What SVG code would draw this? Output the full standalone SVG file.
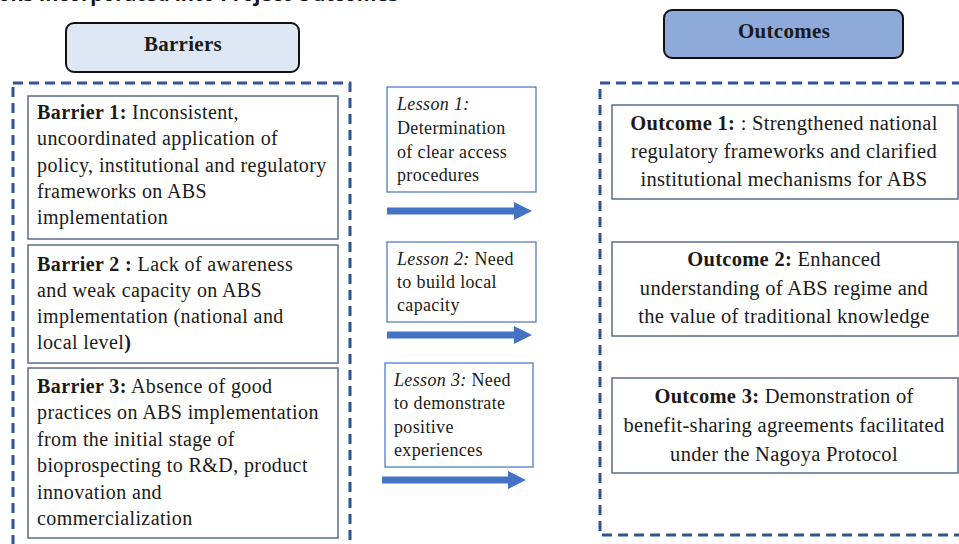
<svg xmlns="http://www.w3.org/2000/svg" width="959" height="544" viewBox="0 0 959 544">
<defs>
<style>
.t{font-family:"Liberation Serif","Times New Roman",serif;fill:#1a1a1a;}
.b{font-size:20px;letter-spacing:0.4px;}
.o{font-size:20.5px;letter-spacing:0.3px;}
.l{font-size:18px;letter-spacing:0.35px;}
.hd{font-size:21px;font-weight:bold;letter-spacing:0.3px;}
.bold{font-weight:bold;}
.it{font-style:italic;}
.dash{fill:none;stroke:#2f5597;stroke-width:3;stroke-dasharray:10 6;}
.box{fill:#fff;stroke:#5b6b8a;stroke-width:1.5;}
.lbox{fill:#fff;stroke:#4472c4;stroke-width:1.2;}
.arr{fill:#4472c4;}
</style>
</defs>
<rect width="959" height="544" fill="#fff"/>
<text x="-2" y="0.5" style="font-family:'Open Sans','Liberation Sans',sans-serif;font-weight:bold;font-size:20px;fill:#111;">ons Incorporated into Project Outcomes</text>

<g id="barriers-header">
<rect x="66" y="23" width="233" height="49" rx="8" fill="#dee8f4" stroke="#111" stroke-width="2"/>
<text class="t hd" x="183" y="51" text-anchor="middle">Barriers</text>
</g>
<g id="outcomes-header">
<rect x="664" y="10" width="239" height="48" rx="8" fill="#8eaadb" stroke="#111" stroke-width="2"/>
<text class="t hd" x="784" y="38" text-anchor="middle">Outcomes</text>
</g>

<g id="barriers-frame"><rect class="dash" x="13" y="83" width="337" height="470"/></g>
<g id="outcomes-frame"><rect class="dash" x="600" y="83" width="380" height="452"/></g>

<g id="barrier1">
<rect class="box" x="28" y="96" width="310" height="143"/>
<text class="t b" x="37" y="119"><tspan class="bold">Barrier 1:</tspan> Inconsistent,</text>
<text class="t b" x="37" y="145">uncoordinated application of</text>
<text class="t b" x="37" y="172">policy, institutional and regulatory</text>
<text class="t b" x="37" y="198">frameworks on ABS</text>
<text class="t b" x="37" y="224">implementation</text>
</g>
<g id="barrier2">
<rect class="box" x="28" y="245" width="310" height="118"/>
<text class="t b" x="37" y="271"><tspan class="bold">Barrier 2 :</tspan> Lack of awareness</text>
<text class="t b" x="37" y="297">and weak capacity on ABS</text>
<text class="t b" x="37" y="323">implementation (national and</text>
<text class="t b" x="37" y="349">local level<tspan class="bold">)</tspan></text>
</g>
<g id="barrier3">
<rect class="box" x="28" y="368" width="310" height="170"/>
<text class="t b" x="37" y="393"><tspan class="bold">Barrier 3:</tspan> Absence of good</text>
<text class="t b" x="37" y="419">practices on ABS implementation</text>
<text class="t b" x="37" y="446">from the initial stage of</text>
<text class="t b" x="37" y="472">bioprospecting to R&amp;D, product</text>
<text class="t b" x="37" y="499">innovation and</text>
<text class="t b" x="37" y="525">commercialization</text>
</g>

<g id="lesson1">
<rect class="lbox" x="387" y="87" width="149" height="105"/>
<text class="t l" x="397" y="110"><tspan class="it">Lesson 1:</tspan></text>
<text class="t l" x="397" y="134">Determination</text>
<text class="t l" x="397" y="158">of clear access</text>
<text class="t l" x="397" y="181">procedures</text>
</g>
<g id="lesson2">
<rect class="lbox" x="387" y="242" width="149" height="80"/>
<text class="t l" x="397" y="265"><tspan class="it">Lesson 2:</tspan> Need</text>
<text class="t l" x="397" y="288">to build local</text>
<text class="t l" x="397" y="311">capacity</text>
</g>
<g id="lesson3">
<rect class="lbox" x="385" y="363" width="148" height="104"/>
<text class="t l" x="394" y="386"><tspan class="it">Lesson 3:</tspan> Need</text>
<text class="t l" x="394" y="409">to demonstrate</text>
<text class="t l" x="394" y="433">positive</text>
<text class="t l" x="394" y="456">experiences</text>
</g>

<g id="connectors">
<polygon class="arr" points="387,207.5 514,207.5 514,202 532,211 514,220 514,214.5 387,214.5"/>
<polygon class="arr" points="387,331.5 514,331.5 514,326 532,335 514,344 514,338.5 387,338.5"/>
<polygon class="arr" points="382,476.5 508,476.5 508,471 526,480 508,489 508,483.5 382,483.5"/>
</g>

<g id="outcome1">
<rect class="box" x="612" y="105" width="346" height="94"/>
<text class="t o" x="784" y="130" text-anchor="middle"><tspan class="bold">Outcome 1:</tspan> : Strengthened national</text>
<text class="t o" x="784" y="158" text-anchor="middle">regulatory frameworks and clarified</text>
<text class="t o" x="784" y="186" text-anchor="middle">institutional mechanisms for ABS</text>
</g>
<g id="outcome2">
<rect class="box" x="612" y="242" width="346" height="94"/>
<text class="t o" x="784" y="266" text-anchor="middle"><tspan class="bold">Outcome 2:</tspan> Enhanced</text>
<text class="t o" x="784" y="295" text-anchor="middle">understanding of ABS regime and</text>
<text class="t o" x="784" y="323" text-anchor="middle">the value of traditional knowledge</text>
</g>
<g id="outcome3">
<rect class="box" x="612" y="378" width="346" height="95"/>
<text class="t o" x="784" y="403" text-anchor="middle"><tspan class="bold">Outcome 3:</tspan> Demonstration of</text>
<text class="t o" x="784" y="432" text-anchor="middle">benefit-sharing agreements facilitated</text>
<text class="t o" x="784" y="461" text-anchor="middle">under the Nagoya Protocol</text>
</g>
</svg>
